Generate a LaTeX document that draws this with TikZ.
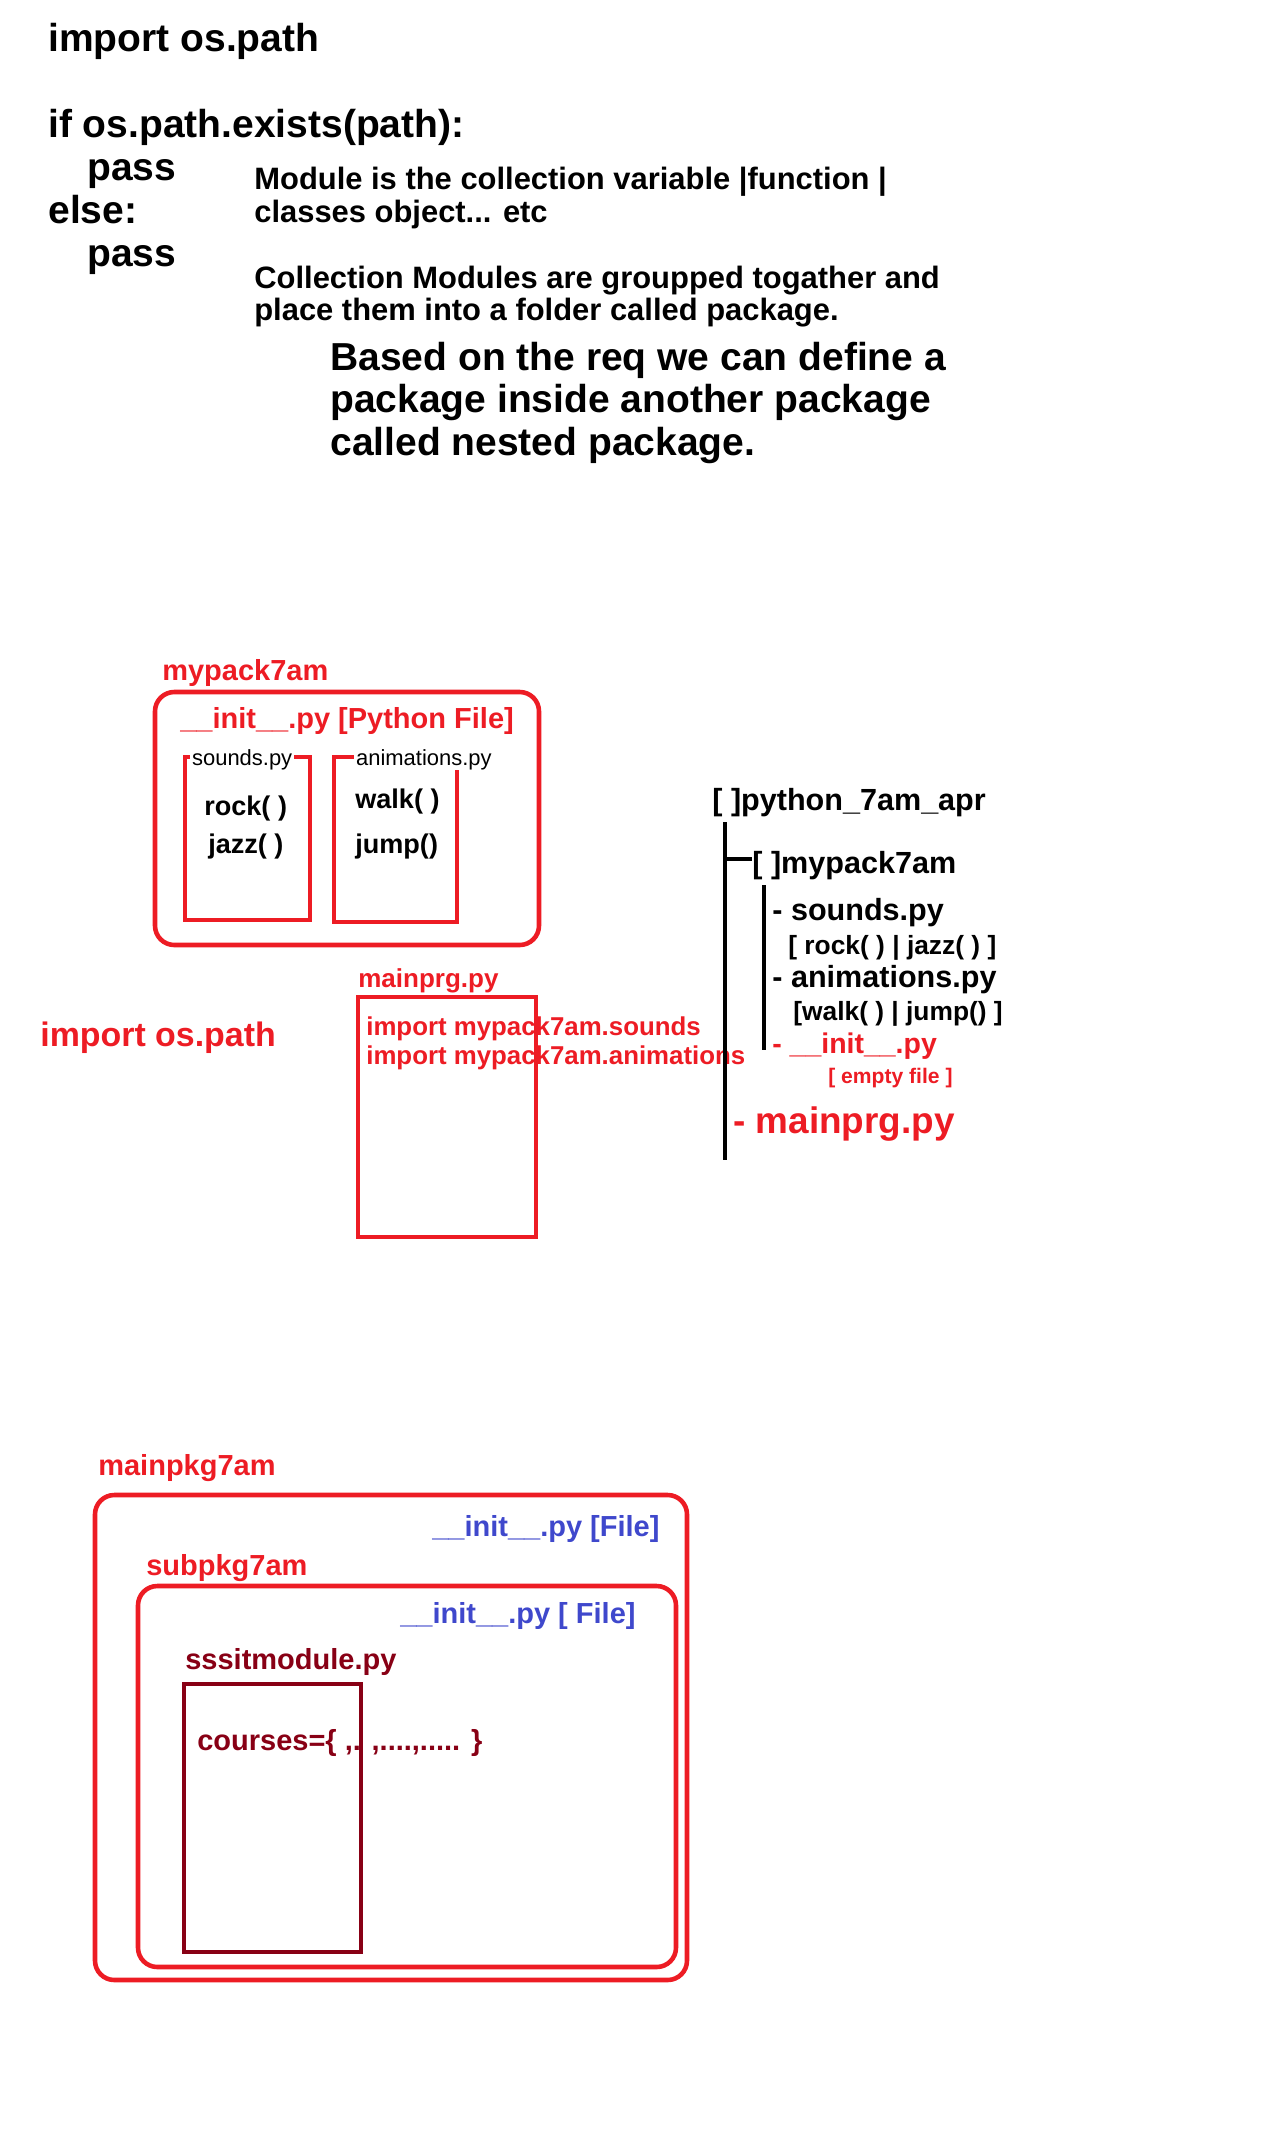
\documentclass[tikz,border=0pt]{standalone}
\usepackage{fontspec}
\setmainfont{Liberation Sans}
\usepackage{xcolor}
\definecolor{ink}{HTML}{000000}
\definecolor{pkgred}{HTML}{ED1C24}
\definecolor{modred}{HTML}{880015}
\definecolor{initblue}{HTML}{3F48CC}
\tikzset{
  txt/.style={anchor=base west, inner sep=0pt},
  code/.style={txt, font=\bfseries\fontsize{22.2}{26}\selectfont},
  note/.style={txt, font=\bfseries\fontsize{17.6}{20}\selectfont},
  pkglbl/.style={txt, text=pkgred, font=\bfseries\fontsize{16.5}{20}\selectfont},
  initlbl/.style={txt, text=initblue, font=\bfseries\fontsize{16.5}{20}\selectfont},
  filelbl/.style={txt, fill=white, inner xsep=1pt, font=\fontsize{12.5}{15}\selectfont},
  func/.style={txt, font=\bfseries\fontsize{15.4}{18}\selectfont},
  imp/.style={txt, text=pkgred, font=\bfseries\fontsize{14.7}{18}\selectfont},
  tree/.style={txt, font=\bfseries\fontsize{17.4}{20}\selectfont},
  treesmall/.style={txt, font=\bfseries\fontsize{15}{18}\selectfont},
  pkgbox/.style={draw=pkgred, line width=2.6pt, rounded corners=11pt},
  filebox/.style={draw=pkgred, line width=2.6pt},
  modbox/.style={draw=modred, line width=2.8pt},
  treeline/.style={draw=ink, line width=2.3pt}
}
\begin{document}
\begin{tikzpicture}[x=0.02cm, y=-0.02cm]
  \useasboundingbox (0,0) rectangle (1274,2140);

  \node[code] (imp) at (48,51.5) {import os.path};
  \node[code] (ifx) at (48,137.5) {if os.path.exists(path):};
  \node[code] (pass1) at (87,180.5) {pass};
  \node[code] (els) at (48,223.5) {else:};
  \node[code] (pass2) at (87,266.5) {pass};

  \node[note] (def1) at (254,189) {Module is the collection variable |function |};
  \node[note] (def2) at (254,222) {classes object... etc};
  \node[note] (def3) at (254,288) {Collection Modules are groupped togather and};
  \node[note] (def4) at (254,320) {place them into a folder called package.};

  \node[code] (nest1) at (330,370) {Based on the req we can define a};
  \node[code] (nest2) at (330,412) {package inside another package};
  \node[code] (nest3) at (330,455) {called nested package.};

  % mypack7am
  \node[pkglbl] (pkg) at (162,680.5) {mypack7am};
  \draw[pkgbox] (155,692) rectangle (539,945);
  \node[pkglbl] (pkginit) at (180,728.5) {\_\_init\_\_.py [Python File]};
  \draw[filebox] (185,757) rectangle (310,920);
  \draw[filebox] (334,757) rectangle (457,922);
  \node[filelbl] (snd) at (190,765) {sounds.py};
  \node[filelbl] (ani) at (354,765) {animations.py};
  \node[func] (rock) at (204,815) {rock( )};
  \node[func] (jazz) at (208,853.5) {jazz( )};
  \node[func] (walk) at (355,808) {walk( )};
  \node[func] (jump) at (355,853.5) {jump()};

  % mainprg.py
  \node[txt, text=pkgred, font=\bfseries\fontsize{19.3}{22}\selectfont] (osimp) at (40,1046) {import os.path};
  \node[pkglbl, font=\bfseries\fontsize{14.8}{18}\selectfont] (mainlbl) at (358,987.5) {mainprg.py};
  \node[imp] (imp1) at (366,1035) {import mypack7am.sounds};
  \node[imp] (imp2) at (366,1064.5) {import mypack7am.animations};
  \draw[filebox] (358,997) rectangle (536,1237);

  % folder tree
  \node[tree] (root) at (712,810) {[ ]python\_7am\_apr};
  \node[tree] (sub) at (752,873) {[ ]mypack7am};
  \node[tree] (t1) at (772,920.5) {- sounds.py};
  \node[treesmall] (t1f) at (788,954) {[ rock( ) | jazz( ) ]};
  \node[tree] (t2) at (772,987) {- animations.py};
  \node[treesmall] (t2f) at (793,1020) {[walk( ) | jump() ]};
  \node[tree, text=pkgred, font=\bfseries\fontsize{16.2}{20}\selectfont] (t3) at (772,1053) {- \_\_init\_\_.py};
  \node[txt, text=pkgred, font=\bfseries\fontsize{12}{14}\selectfont] (t3f) at (828,1083) {[ empty file ]};
  \node[txt, text=pkgred, font=\bfseries\fontsize{21}{24}\selectfont] (t4) at (733,1133) {- mainprg.py};
  \coordinate (rtop) at (725,822);
  \coordinate (rbot) at (725,1160);
  \coordinate (br) at (752,859);
  \coordinate (stop) at (764,885);
  \coordinate (sbot) at (764,1050);
  \draw[treeline] (rtop) -- (rbot);
  \draw[treeline] (rtop |- br) -- (br);
  \draw[treeline] (stop) -- (sbot);

  % nested package
  \node[pkglbl] (mpkg) at (98,1475.5) {mainpkg7am};
  \draw[pkgbox] (95,1495) rectangle (687,1980);
  \node[initlbl] (minit) at (432,1536) {\_\_init\_\_.py [File]};
  \node[pkglbl] (spkg) at (146,1575) {subpkg7am};
  \draw[pkgbox] (138,1586) rectangle (676,1967);
  \node[initlbl] (sinit) at (400,1623) {\_\_init\_\_.py [ File]};
  \node[pkglbl, text=modred] (smod) at (185,1669.5) {sssitmodule.py};
  \node[pkglbl, text=modred] (crs) at (197,1750.5) {courses=\{ ,. ,....,..... \}};
  \draw[modbox] (184,1684) rectangle (361,1952);
\end{tikzpicture}
\end{document}
